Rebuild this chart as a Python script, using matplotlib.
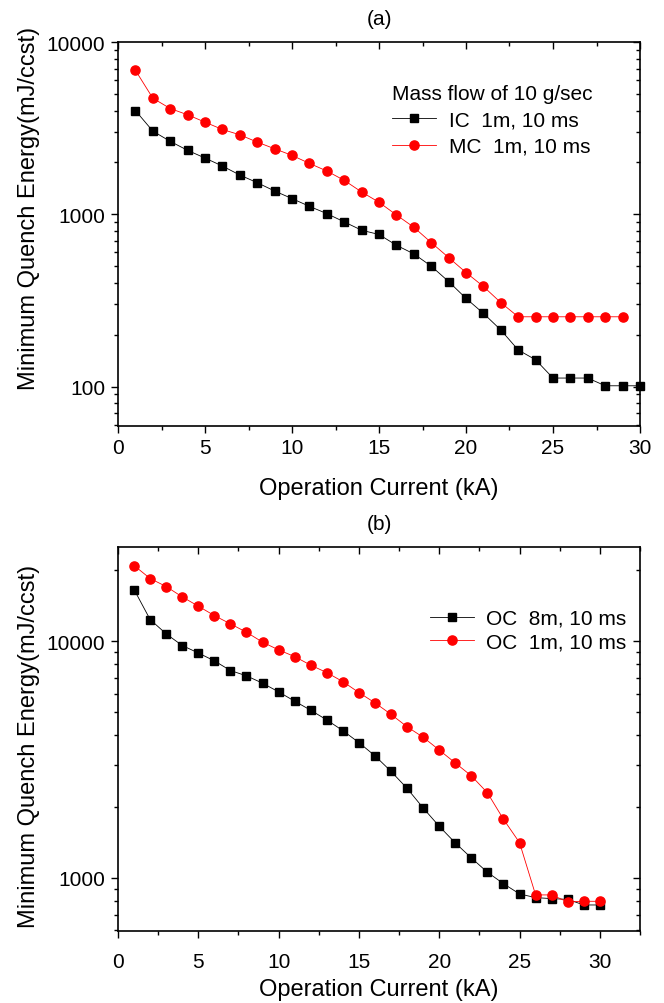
import matplotlib
matplotlib.use("Agg")
import matplotlib.pyplot as plt
from matplotlib.ticker import FixedLocator, NullFormatter, FuncFormatter, MultipleLocator, LogLocator

plt.rcParams['font.family'] = ['Liberation Sans', 'DejaVu Sans']

# Panel (a)
x_a_ic = list(range(1, 31))
ic_1m = [4000, 3040, 2650, 2350, 2120, 1905, 1690, 1525, 1365, 1233,
         1112, 1009, 903, 808, 763, 661, 589, 500, 407, 325,
         266, 213, 163, 143, 112, 112, 112, 101, 101, 101]
x_a_mc = list(range(1, 30))
mc_1m = [6855, 4720, 4110, 3780, 3425, 3106, 2893, 2624, 2400, 2197,
         1974, 1783, 1574, 1347, 1174, 991, 841, 685, 561, 459,
         381, 307, 254, 254, 254, 254, 254, 254, 254]

# Panel (b)
x_b = list(range(1, 31))
oc_8m = [16530, 12350, 10740, 9590, 8920, 8260, 7520, 7140, 6650, 6110,
         5580, 5110, 4650, 4190, 3730, 3280, 2820, 2390, 1975, 1653,
         1406, 1215, 1057, 946, 856, 826, 818, 812, 769, 769]
oc_1m = [20880, 18400, 17020, 15390, 14060, 12830, 11840, 10910, 9910, 9190,
         8610, 7920, 7370, 6750, 6070, 5490, 4910, 4350, 3930, 3470,
         3060, 2700, 2290, 1770, 1410, 848, 848, 792, 797, 797]

labels_a = ["IC  1m, 10 ms", "MC  1m, 10 ms"]
labels_b = ["OC  8m, 10 ms", "OC  1m, 10 ms"]
legend_title_a = "Mass flow of 10 g/sec"
xlabel = "Operation Current (kA)"
ylabel = "Minimum Quench Energy(mJ/ccst)"

fig = plt.figure(figsize=(6.64, 10.04), dpi=100)
W, H = 664, 1004

def add_ax(left, top, right, bottom):
    return fig.add_axes([left / W, 1 - bottom / H, (right - left) / W, (bottom - top) / H])

ax_a = add_ax(118, 43, 640, 427)
ax_b = add_ax(118, 548, 640, 932)

TICK_FS = 15
LABEL_FS = 17

def style(ax, xlim, ylim, majors, xpad, xlabelpad, ylabel_y):
    ax.set_yscale('log')
    ax.set_xlim(*xlim)
    ax.set_ylim(*ylim)
    ax.xaxis.set_major_locator(MultipleLocator(5))
    ax.xaxis.set_minor_locator(MultipleLocator(2.5))
    ax.yaxis.set_major_locator(FixedLocator(majors))
    ax.yaxis.set_minor_locator(LogLocator(base=10, subs=range(2, 10)))
    ax.yaxis.set_major_formatter(FuncFormatter(lambda v, p: f"{int(round(v))}"))
    ax.yaxis.set_minor_formatter(NullFormatter())
    ax.tick_params(which='both', direction='out', top=False, right=False,
                   labelsize=TICK_FS, width=1.0)
    ax.tick_params(axis='x', pad=xpad)
    ax.tick_params(axis='y', pad=4)
    ax.tick_params(which='major', length=5)
    ax.tick_params(which='minor', length=3)
    for s in ax.spines.values():
        s.set_linewidth(1.2)
    ax.set_xlabel(xlabel, fontsize=LABEL_FS, labelpad=xlabelpad)
    ax.set_ylabel(ylabel, fontsize=LABEL_FS)
    ax.yaxis.set_label_coords(-0.15, ylabel_y)
    # mirrored inward ticks on right and top
    axr = ax.twinx()
    axr.set_yscale('log')
    axr.set_ylim(*ylim)
    axr.yaxis.set_major_locator(FixedLocator(majors))
    axr.yaxis.set_minor_locator(LogLocator(base=10, subs=range(2, 10)))
    axr.tick_params(which='both', direction='in', labelright=False, width=1.0)
    axr.tick_params(which='major', length=5)
    axr.tick_params(which='minor', length=3)
    axt = ax.twiny()
    axt.set_xlim(*xlim)
    axt.xaxis.set_major_locator(MultipleLocator(5))
    axt.xaxis.set_minor_locator(MultipleLocator(2.5))
    axt.tick_params(which='both', direction='in', labeltop=False, width=1.0)
    axt.tick_params(which='major', length=5)
    axt.tick_params(which='minor', length=3)
    for a in (axr, axt):
        a.patch.set_visible(False)
        for s in a.spines.values():
            s.set_visible(False)

style(ax_a, (0, 30), (59, 10000), [100, 1000, 10000], 4, 14, 0.57)
style(ax_b, (0, 32.5), (597, 25000), [1000, 10000], 10, 5, 0.484)

kw_sq = dict(marker='s', color='black', markersize=5.8, linewidth=0.6)
kw_ci = dict(marker='o', color='red', markersize=6.6, linewidth=0.6)

ax_a.plot(x_a_ic, ic_1m, label=labels_a[0], clip_on=False, zorder=5, **kw_sq)
ax_a.plot(x_a_mc, mc_1m, label=labels_a[1], clip_on=False, zorder=6, **kw_ci)
ax_b.plot(x_b, oc_8m, label=labels_b[0], clip_on=False, zorder=5, **kw_sq)
ax_b.plot(x_b, oc_1m, label=labels_b[1], clip_on=False, zorder=6, **kw_ci)

ax_a.set_title("(a)", fontsize=TICK_FS, pad=13)
ax_b.set_title("(b)", fontsize=TICK_FS, pad=13)

leg_a = ax_a.legend(loc='upper left', bbox_to_anchor=((384 - 118) / 522, 1 - (77 - 43) / 384),
                    title=legend_title_a, title_fontsize=TICK_FS, fontsize=TICK_FS,
                    frameon=False, borderpad=0.4, borderaxespad=0, handlelength=2.1,
                    handletextpad=0.6, labelspacing=0.35, numpoints=1, alignment='left')
leg_b = ax_b.legend(loc='upper left', bbox_to_anchor=((430 - 118) / 522, 1 - (610 - 548) / 384),
                    fontsize=TICK_FS, frameon=False, borderpad=0, borderaxespad=0,
                    handlelength=2.1, handletextpad=0.6, labelspacing=0.2, numpoints=1)
leg_a.set_zorder(10)
leg_b.set_zorder(10)

fig.savefig("out.png", dpi=100)
